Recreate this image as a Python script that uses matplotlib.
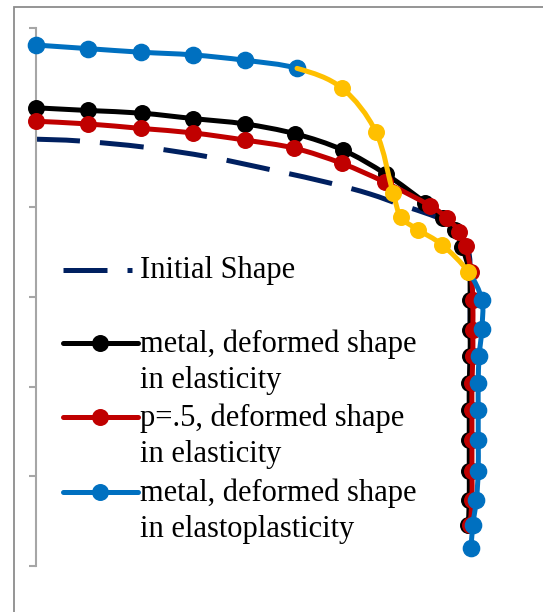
import matplotlib.pyplot as plt
from matplotlib.lines import Line2D
from matplotlib.patches import Rectangle, PathPatch
from matplotlib.path import Path

plt.rcParams['font.family'] = ['Liberation Serif', 'DejaVu Serif']

# initial (undeformed) boundary
init_x = [0, 0.49, 1.22, 1.94, 2.66, 3.28, 3.72, 4.09, 4.39, 4.64, 4.77, 4.83, 4.84, 4.84, 4.84]
init_y = [4.76, 4.74, 4.67, 4.56, 4.41, 4.27, 4.15, 4.02, 3.92, 3.81, 3.66, 3.47, 3.24, 2.97, 0.55]

# metal, elastic
metal_x = [0, 0.58, 1.18, 1.75, 2.33, 2.89, 3.42, 3.90, 4.34, 4.54, 4.67, 4.75, 4.83,
           4.84, 4.84, 4.84, 4.83, 4.83, 4.83, 4.83, 4.83, 4.82]
metal_y = [5.11, 5.08, 5.05, 4.99, 4.93, 4.82, 4.64, 4.37, 4.05, 3.88, 3.75, 3.56, 3.28,
           2.97, 2.63, 2.34, 2.04, 1.74, 1.40, 1.06, 0.74, 0.46]

# p=.5, elastic
p5_x = [0, 0.58, 1.17, 1.75, 2.33, 2.88, 3.41, 3.89, 4.39, 4.58, 4.72, 4.79, 4.85,
        4.87, 4.87, 4.87, 4.86, 4.86, 4.86, 4.86, 4.86, 4.84]
p5_y = [4.96, 4.93, 4.88, 4.83, 4.75, 4.66, 4.49, 4.28, 4.02, 3.88, 3.73, 3.57, 3.28,
        2.97, 2.63, 2.34, 2.04, 1.74, 1.40, 1.06, 0.74, 0.46]

# metal, elastoplastic (points 5..12 are the yielded zone)
ep_x = [0, 0.58, 1.17, 1.75, 2.33, 2.91, 3.41, 3.79, 3.98, 4.07, 4.26, 4.53, 4.82,
        4.97, 4.97, 4.94, 4.93, 4.93, 4.93, 4.93, 4.91, 4.87, 4.85]
ep_y = [5.81, 5.77, 5.73, 5.70, 5.64, 5.55, 5.33, 4.84, 4.16, 3.89, 3.75, 3.58, 3.28,
        2.97, 2.64, 2.34, 2.04, 1.74, 1.40, 1.06, 0.74, 0.46, 0.20]
yield_start, yield_end = 5, 12

NAVY = '#002060'
BLACK = '#000000'
RED = '#C00000'
BLUE = '#0070C0'
GOLD = '#FFC000'
GRID = '#A6A6A6'


def smooth_path(xs, ys, prev=None, nxt=None):
    # Catmull-Rom style cubic segments through the given points
    pts = list(zip(xs, ys))
    ext = [prev or pts[0]] + pts + [nxt or pts[-1]]
    verts = [pts[0]]
    codes = [Path.MOVETO]
    for i in range(1, len(ext) - 2):
        p0, p1, p2, p3 = ext[i - 1], ext[i], ext[i + 1], ext[i + 2]
        c1 = (p1[0] + (p2[0] - p0[0]) / 6, p1[1] + (p2[1] - p0[1]) / 6)
        c2 = (p2[0] - (p3[0] - p1[0]) / 6, p2[1] - (p3[1] - p1[1]) / 6)
        verts += [c1, c2, p2]
        codes += [Path.CURVE4] * 3
    return Path(verts, codes)


def draw_curve(ax, xs, ys, color, z, prev=None, nxt=None, **kw):
    patch = PathPatch(smooth_path(xs, ys, prev, nxt), fill=False, edgecolor=color,
                      lw=lw, capstyle='round', joinstyle='round', zorder=z,
                      clip_on=False, **kw)
    ax.add_patch(patch)


W, H = 543, 612
fig = plt.figure(figsize=(W / 100, H / 100), dpi=100)

# chart frame
fig.add_artist(Rectangle((14 / W, -0.1), 1.2, 1.1 - 7 / H, transform=fig.transFigure,
                         fill=False, edgecolor='#8C8C8C', linewidth=1.3))

ax = fig.add_axes([36 / W, 46 / H, 1 - 36 / W, 538 / H])
ax.set_xlim(0, 507 / 89.7)
ax.set_ylim(0, 6)

lw = 3.6
ms = 11.2

draw_curve(ax, init_x, init_y, NAVY, 2, linestyle=(0, (8.8, 4)))
ax.patches[-1].set_capstyle('butt')

draw_curve(ax, metal_x, metal_y, BLACK, 3)
ax.plot(metal_x, metal_y, ls='none', color=BLACK, marker='o', ms=ms, zorder=3, clip_on=False)

draw_curve(ax, p5_x, p5_y, RED, 4)
ax.plot(p5_x, p5_y, ls='none', color=RED, marker='o', ms=ms, zorder=4, clip_on=False)

s0, s1 = yield_start, yield_end
pts = list(zip(ep_x, ep_y))
draw_curve(ax, ep_x[:s0 + 1], ep_y[:s0 + 1], BLUE, 5, nxt=pts[s0 + 1])
draw_curve(ax, ep_x[s1:], ep_y[s1:], BLUE, 5, prev=pts[s1 - 1])
ax.plot(ep_x[:s0 + 1], ep_y[:s0 + 1], ls='none', color=BLUE, marker='o', ms=ms + 0.5,
        zorder=5, clip_on=False)
ax.plot(ep_x[s1 + 1:], ep_y[s1 + 1:], ls='none', color=BLUE, marker='o', ms=ms + 0.5,
        zorder=5, clip_on=False)
draw_curve(ax, ep_x[s0:s1 + 1], ep_y[s0:s1 + 1], GOLD, 6, prev=pts[s0 - 1], nxt=pts[s1 + 1])
ax.plot(ep_x[s0 + 1:s1 + 1], ep_y[s0 + 1:s1 + 1], ls='none', color=GOLD, marker='o',
        ms=ms, zorder=6, clip_on=False)

for side in ['top', 'right', 'bottom']:
    ax.spines[side].set_visible(False)
ax.spines['left'].set_color(GRID)
ax.spines['left'].set_linewidth(1.5)
ax.set_yticks(range(7))
ax.set_xticks([])
ax.tick_params(axis='y', direction='out', length=5, width=1.5, color=GRID, labelleft=False)
ax.patch.set_visible(False)


# legend
def fx(px):
    return px / W


def fy(py):
    return 1 - py / H


fs = 22
fig.add_artist(Line2D([fx(63), fx(132)], [fy(270), fy(270)], color=NAVY, lw=lw,
                      dashes=(8.8, 4), transform=fig.transFigure))
fig.text(fx(140), fy(278), 'Initial Shape', fontsize=fs)

entries = [
    (BLACK, 343, ['metal, deformed shape', 'in elasticity']),
    (RED, 417, ['p=.5, deformed shape', 'in elasticity']),
    (BLUE, 492, ['metal, deformed shape', 'in elastoplasticity']),
]
for color, ly, lines in entries:
    fig.add_artist(Line2D([fx(63), fx(138)], [fy(ly), fy(ly)], color=color, lw=lw,
                          solid_capstyle='round', transform=fig.transFigure))
    fig.add_artist(Line2D([fx(100)], [fy(ly)], color=color, marker='o', ms=ms,
                          transform=fig.transFigure))
    for i, line in enumerate(lines):
        fig.text(fx(140), fy(ly + 9 + 36 * i), line, fontsize=fs)

fig.savefig('out.png', dpi=100)
